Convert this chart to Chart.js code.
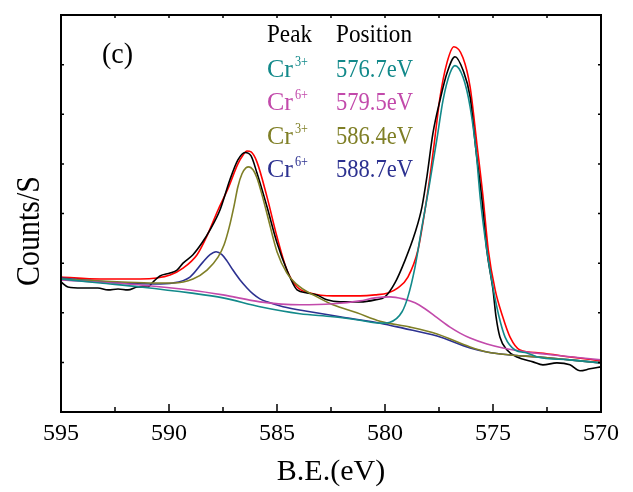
<!DOCTYPE html>
<html><head><meta charset="utf-8">
<script src="https://cdn.jsdelivr.net/npm/chart.js@4.4.1/dist/chart.umd.min.js"></script>
<style>html,body{margin:0;padding:0;background:#fff}</style>
</head><body>
<canvas id="c" width="633" height="492"></canvas>
<script>
// binding energy (eV) and counts/s
var rawE=[595.00,594.68,594.03,593.29,592.82,592.36,591.90,591.44,590.97,590.74,590.42,589.95,589.63,589.35,588.89,588.47,588.10,587.64,587.18,586.81,586.48,586.20,585.93,585.46,585.00,584.54,584.07,583.61,583.15,582.69,582.08,581.16,580.46,580.00,579.54,579.07,578.61,578.29,578.06,577.78,577.45,577.13,576.76,576.39,576.06,575.79,575.51,575.29,575.00,574.86,574.68,574.35,573.89,573.15,572.69,572.04,571.44,570.97,570.51,570.00];
var rawC=[2620,2520,2500,2500,2460,2480,2460,2520,2520,2620,2740,2800,2860,3000,3170,3410,3670,4070,4680,5080,5230,5160,4820,4130,3410,2860,2460,2400,2360,2260,2220,2220,2260,2320,2600,3060,3610,4130,4740,5620,6290,6830,7160,6890,6350,5280,4270,3270,2460,1920,1510,1250,1110,1010,950,990,950,830,870,910];

var fitE=[595.00,593.19,591.34,590.56,589.95,589.35,588.70,588.24,587.73,587.27,586.81,586.57,586.39,586.20,585.93,585.46,585.00,584.54,584.07,583.47,582.41,581.16,580.46,579.86,579.40,578.94,578.47,578.15,577.92,577.73,577.45,577.13,576.81,576.39,576.06,575.74,575.47,575.22,574.90,574.55,574.21,573.75,572.82,571.44,570.00];
var fitC=[2720,2680,2680,2700,2760,2900,3170,3550,4070,4500,5000,5180,5260,5240,5040,4330,3530,2860,2520,2400,2340,2340,2360,2400,2500,2720,3270,4070,4740,5380,6350,7040,7360,7140,6550,5380,4370,3270,2460,1920,1510,1250,1190,1110,1030];

// Cr3+ 576.7
var p1E=[595.00,593.19,591.34,589.03,587.50,585.79,583.94,582.41,581.16,580.23,579.77,579.21,578.94,578.61,578.29,577.96,577.78,577.59,577.31,576.99,576.76,576.39,576.06,575.79,575.58,575.29,574.98,574.72,574.44,573.98,573.43,572.96,571.44,570.00];
var p1C=[2680,2600,2520,2400,2300,2120,1980,1920,1850,1790,1810,2020,2320,2920,3730,4540,5020,5520,6290,6830,6980,6750,6150,5280,4270,3270,2460,1920,1510,1250,1190,1110,1050,990];
// Cr6+ 579.5
var p2E=[595.00,591.34,589.03,587.50,585.79,583.94,582.41,581.16,580.46,579.77,579.17,578.61,578.15,577.59,576.99,576.53,576.06,575.28,574.54,573.43,572.22,570.00];
var p2C=[2660,2560,2460,2360,2220,2160,2180,2240,2300,2320,2280,2200,2080,1900,1710,1590,1490,1370,1290,1210,1150,1050];
// Cr3+ 586.4
var p3E=[595.00,592.18,590.65,589.81,588.89,588.24,587.73,587.45,587.22,586.99,586.81,586.62,586.44,586.30,586.11,585.93,585.69,585.46,585.00,584.54,583.94,583.15,582.41,581.30,580.23,578.84,577.59,576.06,575.28,574.21,572.96,571.44,570.00];
var p3C=[2680,2620,2600,2600,2680,2860,3120,3370,3710,4150,4540,4800,4920,4940,4880,4720,4370,3990,3230,2800,2520,2320,2160,2000,1830,1710,1570,1310,1210,1150,1110,1050,990];
// Cr6+ 588.7
var p4E=[595.00,592.18,590.65,589.81,589.03,588.43,588.10,587.82,587.55,587.31,587.04,586.71,586.39,586.11,585.79,585.46,584.72,583.47,582.08,580.23,579.17,577.59,576.06,575.28,574.21,572.96,571.44,570.00];
var p4C=[2700,2600,2580,2600,2720,3020,3170,3230,3170,3040,2860,2660,2500,2380,2280,2220,2120,2020,1920,1790,1690,1530,1290,1210,1150,1110,1050,990];

var xTicks=[595,592.5,590,587.5,585,582.5,580,577.5,575,572.5,570];
var yTicks=[0,1000,2000,3000,4000,5000,6000,7000,8000];

var peakIons=['Cr','Cr','Cr','Cr'];
var peakSup=['3+','6+','3+','6+'];
var peakPos=['576.7eV','579.5eV','586.4eV','588.7eV'];
var peakCol=['#12898a','#c24aab','#7f7f26','#2c3190'];

var serif='"Liberation Serif","Times New Roman",serif';
Chart.defaults.font.family=serif;

function pts(xs,ys){return xs.map(function(x,i){return {x:x,y:ys[i]};});}

var frame={id:'frame',afterDatasetsDraw:function(ch){
  var a=ch.chartArea,ctx=ch.ctx,sx=ch.scales.x,sy=ch.scales.y;
  ctx.save();
  ctx.strokeStyle='#000';ctx.lineWidth=2;
  ctx.strokeRect(a.left,a.top,a.right-a.left,a.bottom-a.top);
  ctx.lineWidth=1.5;ctx.beginPath();
  xTicks.forEach(function(v){
    var px=sx.getPixelForValue(v),major=(v%5===0);
    ctx.moveTo(px,a.bottom);ctx.lineTo(px,a.bottom-(major?8:5));
    ctx.moveTo(px,a.top);ctx.lineTo(px,a.top+3);
  });
  yTicks.forEach(function(v){
    var py=sy.getPixelForValue(v);
    ctx.moveTo(a.left,py);ctx.lineTo(a.left+3,py);
    ctx.moveTo(a.right,py);ctx.lineTo(a.right-3,py);
  });
  ctx.stroke();

  ctx.textBaseline='alphabetic';ctx.textAlign='left';
  ctx.fillStyle='#000';
  ctx.font='29px '+serif;ctx.fillText('(c)',102,63,31);
  ctx.font='25px '+serif;
  ctx.fillText('Peak',267,42,45);
  ctx.fillText('Position',336,42,76);
  for(var i=0;i<peakPos.length;i++){
    var b=76.5+i*33.5;
    ctx.fillStyle=peakCol[i];
    ctx.font='26px '+serif;ctx.fillText(peakIons[i],267,b,28);
    ctx.font='15px '+serif;ctx.fillText(peakSup[i],295,b-11,13);
    ctx.font='25px '+serif;ctx.fillText(peakPos[i],336,b,77);
  }
  // y axis title, squeezed along its length like the original
  ctx.fillStyle='#000';
  ctx.translate(39,231);ctx.rotate(-Math.PI/2);
  ctx.textAlign='center';ctx.font='33px '+serif;
  ctx.fillText('Counts/S',0,0,110);
  ctx.restore();
}};

function ds(xs,ys,col){return {data:pts(xs,ys),borderColor:col,borderWidth:1.6,pointRadius:0,fill:false,cubicInterpolationMode:'monotone'};}

new Chart(document.getElementById('c'),{
  type:'line',
  data:{datasets:[
    ds(p1E,p1C,peakCol[0]),
    ds(p2E,p2C,peakCol[1]),
    ds(p3E,p3C,peakCol[2]),
    ds(p4E,p4C,peakCol[3]),
    ds(rawE,rawC,'#000'),
    ds(fitE,fitC,'#ff0000')
  ]},
  options:{
    responsive:false,animation:false,events:[],
    layout:{padding:{top:15,right:32,left:0,bottom:0}},
    plugins:{legend:{display:false},tooltip:{enabled:false}},
    scales:{
      x:{type:'linear',reverse:true,min:570,max:595,
        afterFit:function(s){s.height=80;},
        grid:{display:false,drawTicks:false},border:{display:false},
        ticks:{stepSize:5,padding:7,color:'#000',font:{family:serif,size:24}},
        title:{display:true,text:'B.E.(eV)',color:'#000',font:{family:serif,size:30},padding:{top:0,bottom:2}}},
      y:{type:'linear',min:0,max:8000,
        afterFit:function(s){s.width=61;},
        grid:{display:false,drawTicks:false},border:{display:false},
        ticks:{display:false,stepSize:1000},
        title:{display:false}}
    }
  },
  plugins:[frame]
});
</script>
</body></html>
